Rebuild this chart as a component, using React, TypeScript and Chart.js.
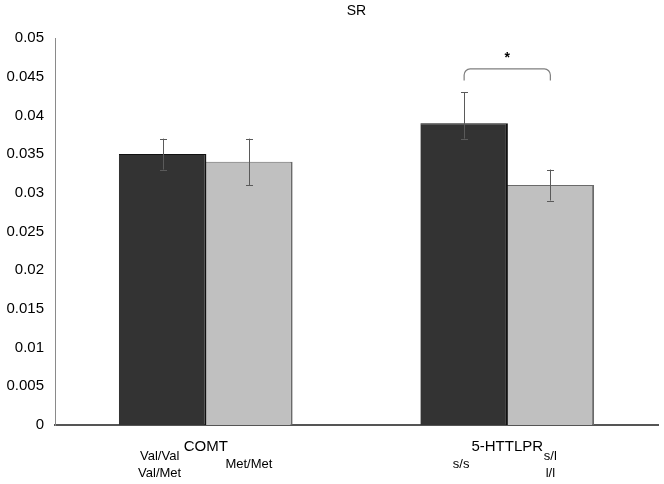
import React, { useEffect, useRef } from "react";
import { Chart, registerables } from "chart.js";

Chart.register(...registerables);

const title = "SR";
const categories = ["COMT", "5-HTTLPR"];
const seriesA = [0.035, 0.039];
const seriesB = [0.034, 0.031];
const errA = [[0.033, 0.037], [0.037, 0.043]];
const errB = [[0.031, 0.037], [0.029, 0.033]];
const subLabelsA = [["Val/Val", "Val/Met"], ["s/s"]];
const subLabelsB = [["Met/Met"], ["s/l", "l/l"]];
const yTicksMin = 0;
const yTicksMax = 0.05;
const yStep = 0.005;
const sigCategory = 1;
const bracketTop = 0.046;
const bracketLeg = 0.0445;
const starValue = 0.0478;

const FONT = "'Liberation Sans', Arial, sans-serif";

const overlay = {
  id: "overlay",
  afterDatasetsDraw(chart: any) {
    const ctx = chart.ctx;
    const y = chart.scales.y;
    const x = chart.scales.x;
    const area = chart.chartArea;
    const metaA = chart.getDatasetMeta(0);
    const metaB = chart.getDatasetMeta(1);
    ctx.save();
    // error bars
    const drawErr = (meta: any, errs: number[][]) => {
      meta.data.forEach((bar: any, i: number) => {
        const bx = Math.round(bar.x) + 0.5;
        const y1 = y.getPixelForValue(errs[i][0]);
        const y2 = y.getPixelForValue(errs[i][1]);
        ctx.strokeStyle = "#5a5a5a";
        ctx.lineWidth = 1;
        ctx.beginPath();
        ctx.moveTo(bx, y1);
        ctx.lineTo(bx, y2);
        ctx.moveTo(bx - 3.5, Math.round(y1) + 0.5);
        ctx.lineTo(bx + 3.5, Math.round(y1) + 0.5);
        ctx.moveTo(bx - 3.5, Math.round(y2) + 0.5);
        ctx.lineTo(bx + 3.5, Math.round(y2) + 0.5);
        ctx.stroke();
      });
    };
    drawErr(metaA, errA);
    drawErr(metaB, errB);

    // bracket
    const xa = metaA.data[sigCategory].x;
    const xb = metaB.data[sigCategory].x;
    const yt = y.getPixelForValue(bracketTop);
    const yl = y.getPixelForValue(bracketLeg);
    const r = 6;
    ctx.strokeStyle = "#7f7f7f";
    ctx.lineWidth = 1.2;
    ctx.beginPath();
    ctx.moveTo(xa, yl);
    ctx.arcTo(xa, yt, xa + r, yt, r);
    ctx.lineTo(xb - r, yt);
    ctx.arcTo(xb, yt, xb, yl, r);
    ctx.lineTo(xb, yl);
    ctx.stroke();
    ctx.fillStyle = "#000";
    ctx.font = `bold 14px ${FONT}`;
    ctx.textAlign = "center";
    ctx.textBaseline = "middle";
    ctx.fillText("*", (xa + xb) / 2, y.getPixelForValue(starValue) + 3);

    // title
    ctx.font = `14px ${FONT}`;
    ctx.fillStyle = "#000";
    ctx.fillText(title, (area.left + area.right) / 2, 11);

    // x labels
    categories.forEach((c, i) => {
      const cx = x.getPixelForValue(i);
      ctx.font = `15px ${FONT}`;
      ctx.fillText(c, cx, 447);
      ctx.font = `13px ${FONT}`;
      const drawSub = (lines: string[], px: number) => {
        const lh = 17;
        const start = 464.5 - ((lines.length - 1) * lh) / 2;
        lines.forEach((l, k) => ctx.fillText(l, px, start + k * lh));
      };
      drawSub(subLabelsA[i], metaA.data[i].x - 3);
      drawSub(subLabelsB[i], metaB.data[i].x);
    });
    ctx.restore();
  },
};

export default function App() {
  const ref = useRef<HTMLCanvasElement>(null);
  useEffect(() => {
    document.body.style.margin = "0";
    const chart = new Chart(ref.current as HTMLCanvasElement, {
      type: "bar",
      data: {
        labels: categories,
        datasets: [
          {
            data: seriesA,
            backgroundColor: "#333333",
            borderColor: "#111111",
            borderWidth: { top: 1, left: 0, right: 2, bottom: 0 } as any,
            borderSkipped: false,
          },
          {
            data: seriesB,
            backgroundColor: "#c0c0c0",
            borderColor: "#6a6a6a",
            borderWidth: { top: 1, left: 0, right: 2, bottom: 0 } as any,
            borderSkipped: false,
          },
        ],
      },
      options: {
        animation: false,
        responsive: false,
        maintainAspectRatio: false,
        layout: { padding: { left: 0, top: 38, right: 6, bottom: 59 } },
        plugins: {
          legend: { display: false },
          title: { display: false },
          tooltip: { enabled: false },
        },
        datasets: { bar: { barPercentage: 1.015, categoryPercentage: 0.572 } },
        scales: {
          x: {
            grid: { display: false, drawTicks: false },
            border: { display: true, color: "#555555", width: 2 },
            ticks: { display: false },
            afterFit: (s: any) => {
              s.height = 0;
            },
          },
          y: {
            min: yTicksMin,
            max: yTicksMax,
            grid: { display: false, drawTicks: false },
            border: { display: true, color: "#8a8a8a", width: 1 },
            ticks: {
              stepSize: yStep,
              padding: 11,
              color: "#000",
              font: { family: FONT, size: 15 },
              callback: (v: any) => String(Math.round(Number(v) * 1000) / 1000),
            },
            afterFit: (s: any) => {
              s.width = 55;
            },
          },
        },
      },
      plugins: [overlay],
    });
    return () => chart.destroy();
  }, []);
  return (
    <div style={{ width: 664, height: 484 }}>
      <canvas ref={ref} width={664} height={484} />
    </div>
  );
}
